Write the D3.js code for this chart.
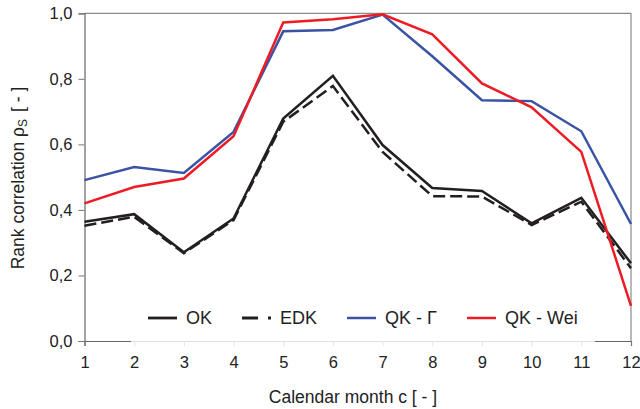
<!DOCTYPE html>
<html>
<head>
<meta charset="utf-8">
<script src="https://cdn.jsdelivr.net/npm/d3@7"></script>
<style>
  body { margin: 0; background: #fff; }
  svg { font-family: "Liberation Sans", Arial, sans-serif; }
</style>
</head>
<body>
<div id="viz"></div>
<script>
// months and rank correlation values
var months = [1, 2, 3, 4, 5, 6, 7, 8, 9, 10, 11, 12];
var ok    = [0.364, 0.387, 0.271, 0.374, 0.679, 0.809, 0.598, 0.467, 0.458, 0.359, 0.437, 0.237];
var edk   = [0.352, 0.379, 0.268, 0.369, 0.669, 0.778, 0.577, 0.442, 0.441, 0.354, 0.425, 0.222];
var qkGam = [0.491, 0.531, 0.513, 0.638, 0.945, 0.949, 0.996, 0.869, 0.735, 0.732, 0.640, 0.357];
var qkWei = [0.420, 0.470, 0.496, 0.625, 0.972, 0.982, 0.997, 0.936, 0.786, 0.713, 0.577, 0.107];
var yTicks = [0, 0.2, 0.4, 0.6, 0.8, 1.0];
var seriesNames = ["OK", "EDK", "QK - \u0393", "QK - Wei"];

var width = 640, height = 409;
var margin = { top: 13.3, right: 9, bottom: 68, left: 84.5 };

var series = [
  { name: seriesNames[0], values: ok,    color: "#231f20", dash: null },
  { name: seriesNames[1], values: edk,   color: "#231f20", dash: "12,5" },
  { name: seriesNames[2], values: qkGam, color: "#3a53a4", dash: null },
  { name: seriesNames[3], values: qkWei, color: "#ed1c24", dash: null }
];

var svg = d3.select("#viz").append("svg")
  .attr("width", width)
  .attr("height", height);

var x = d3.scaleLinear()
  .domain([1, 12])
  .range([margin.left, width - margin.right]);

var y = d3.scaleLinear()
  .domain([0, 1])
  .range([height - margin.bottom, margin.top]);

// frame (top and right)
svg.append("path")
  .attr("d", "M" + x(1) + "," + y(1) + "H" + x(12) + "V" + y(0))
  .attr("fill", "none")
  .attr("stroke", "#8a8a8a")
  .attr("stroke-width", 1.2);

var fmt = function (d) { return d.toFixed(1).replace(".", ","); };

var yAxis = svg.append("g")
  .attr("transform", "translate(" + x(1) + ",0)")
  .call(d3.axisLeft(y).tickValues(yTicks).tickFormat(fmt).tickSize(6).tickPadding(6));

var xAxis = svg.append("g")
  .attr("transform", "translate(0," + y(0) + ")")
  .call(d3.axisBottom(x).tickValues(months).tickSize(5).tickPadding(10));

[yAxis, xAxis].forEach(function (g) {
  g.select(".domain").attr("stroke", "#666").attr("stroke-width", 1.2);
  g.selectAll(".tick line").attr("stroke", "#777");
  g.selectAll(".tick text")
    .attr("fill", "#222")
    .style("font-size", "16.5px")
    .style("font-family", "Liberation Sans, Arial, sans-serif");
});

// lines
var line = d3.line()
  .x(function (d, i) { return x(months[i]); })
  .y(function (d) { return y(d); });

svg.selectAll(".series")
  .data(series)
  .enter().append("path")
  .attr("class", "series")
  .attr("d", function (s) { return line(s.values); })
  .attr("fill", "none")
  .attr("stroke", function (s) { return s.color; })
  .attr("stroke-width", 2.5)
  .attr("stroke-linejoin", "miter")
  .attr("stroke-dasharray", function (s) { return s.dash; });

// legend, semi transparent white box over the bottom axis
var legend = svg.append("g");
legend.append("rect")
  .attr("x", 131)
  .attr("y", 300)
  .attr("width", 464)
  .attr("height", 50)
  .attr("fill", "#fff")
  .attr("fill-opacity", 0.8);

var legX = [148, 242, 347, 467];
var legY = 318;
var item = legend.selectAll(".item")
  .data(series)
  .enter().append("g")
  .attr("transform", function (d, i) { return "translate(" + legX[i] + "," + legY + ")"; });

item.append("line")
  .attr("x1", 0).attr("x2", 29)
  .attr("stroke", function (d) { return d.color; })
  .attr("stroke-width", function (d) { return d.color === "#231f20" ? 2.8 : 2.5; })
  .attr("stroke-dasharray", function (d) { return d.dash ? "16,10" : null; });

item.append("text")
  .attr("x", 38)
  .attr("dy", "0.36em")
  .attr("fill", "#222")
  .style("font-size", "18px")
  .text(function (d) { return d.name; });

// axis titles
svg.append("text")
  .attr("x", 353)
  .attr("y", 403)
  .attr("text-anchor", "middle")
  .attr("fill", "#222")
  .style("font-size", "17.5px")
  .text("Calendar month c [ - ]");

var yt = svg.append("text")
  .attr("transform", "translate(24,178) rotate(-90)")
  .attr("text-anchor", "middle")
  .attr("fill", "#222")
  .style("font-size", "17.5px");
yt.append("tspan").text("Rank correlation \u03c1");
yt.append("tspan").attr("baseline-shift", "-25%").style("font-size", "12px").text("S");
yt.append("tspan").attr("dx", 7).text("[ - ]");
</script>
</body>
</html>
